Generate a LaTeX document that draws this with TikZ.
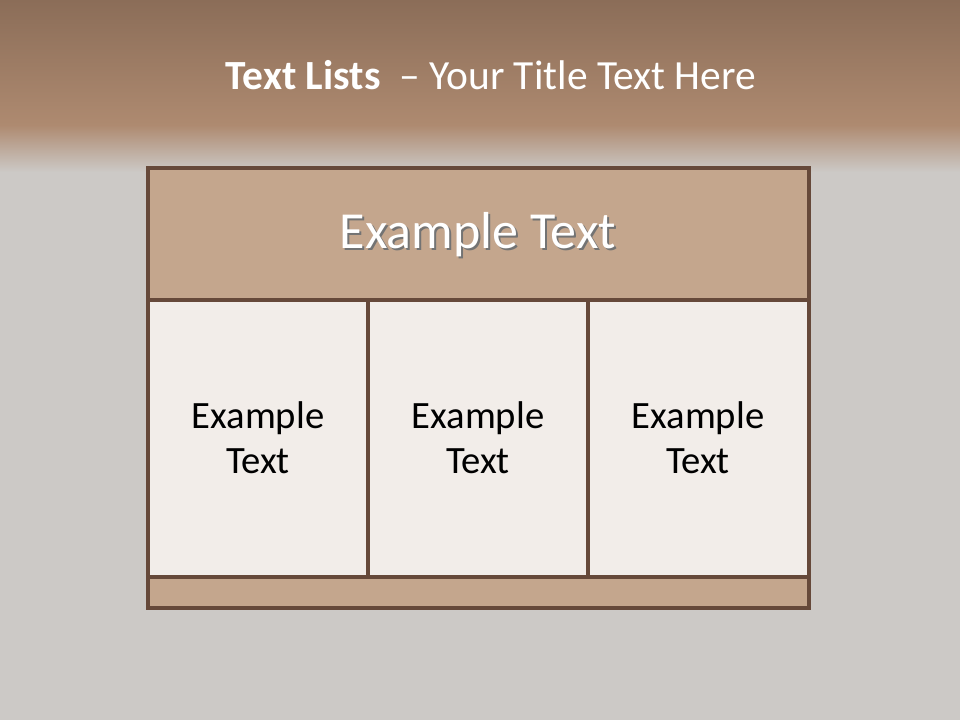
\documentclass[tikz,border=0pt]{standalone}
\usepackage{fontspec}
\setmainfont{Carlito}
\usepackage{xcolor}
\usepackage{tikz}
\usetikzlibrary{calc, positioning}

\definecolor{bandtop}{HTML}{8B6D58}
\definecolor{bandmid}{HTML}{AE8A70}
\definecolor{slategrey}{HTML}{CCC9C6}
\definecolor{framebrown}{HTML}{66493A}
\definecolor{headfill}{HTML}{C4A68D}
\definecolor{cellfill}{HTML}{F2EDE9}

\tikzset{
    frame/.style={draw=framebrown, line width=2pt},
    celltext/.style={align=center, text=black, font=\fontsize{22}{25.5}\selectfont},
}

\begin{document}
\begin{tikzpicture}[x=0.02cm, y=-0.02cm]
    % Nền
    \useasboundingbox (0,0) rectangle (960,720);
    \fill[slategrey] (0,0) rectangle (960,720);
    \shade[top color=bandtop, bottom color=bandmid] (0,0) rectangle (960,125);
    \shade[top color=bandmid, bottom color=slategrey] (0,125) rectangle (960,172);

    % Tiêu đề
    \node[text=white, font=\fontsize{23.6}{28}\selectfont] (title) at (491,75)
        {\textbf{Text Lists}\ \ – Your Title Text Here};

    % Khung bảng
    \draw[frame, fill=headfill] (148,168) rectangle (809,300);
    \draw[frame, fill=cellfill] (148,300) rectangle (368,577);
    \draw[frame, fill=cellfill] (368,300) rectangle (588,577);
    \draw[frame, fill=cellfill] (588,300) rectangle (809,577);
    \draw[frame, fill=headfill] (148,577) rectangle (809,608);

    % Chữ tiêu đề bảng
    \node[text=black!55, font=\fontsize{29.6}{34}\selectfont] (headshadow) at (480,237) {Example Text};
    \node[text=white, font=\fontsize{29.6}{34}\selectfont] (head) at (478,235) {Example Text};

    % Các ô
    \node[celltext] (cella) at (258,438) {Example\\Text};
    \node[celltext] (cellb) at (478,438) {Example\\Text};
    \node[celltext] (cellc) at (698,438) {Example\\Text};
\end{tikzpicture}
\end{document}
